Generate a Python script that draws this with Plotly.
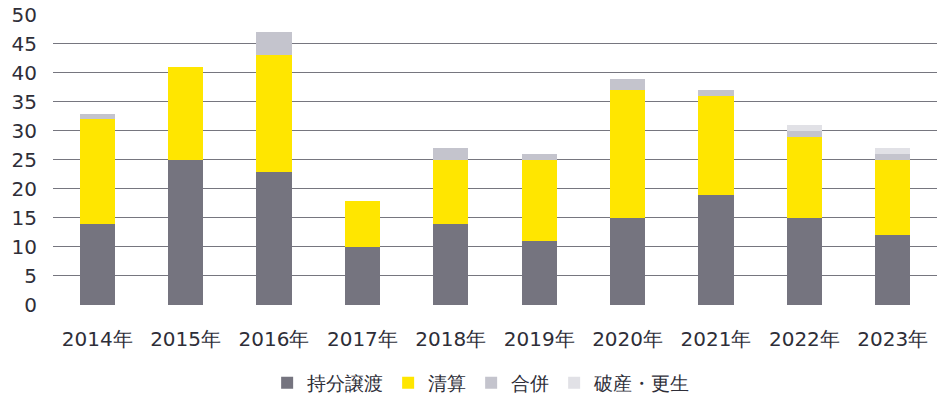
import plotly.graph_objects as go

years = ["2014年", "2015年", "2016年", "2017年", "2018年", "2019年", "2020年", "2021年", "2022年", "2023年"]
transfer = [14, 25, 23, 10, 14, 11, 15, 19, 15, 12]
liquidation = [18, 16, 20, 8, 11, 14, 22, 17, 14, 13]
merger = [1, 0, 4, 0, 2, 1, 2, 1, 1, 1]
bankruptcy = [0, 0, 0, 0, 0, 0, 0, 0, 1, 1]

series = [
    ("持分譲渡", transfer, "#75747F"),
    ("清算", liquidation, "#FFE600"),
    ("合併", merger, "#C4C4CD"),
    ("破産・更生", bankruptcy, "#E1E1E6"),
]

font_family = "DejaVu Sans"
text_color = "#2E2E38"

fig = go.Figure()
for name, vals, color in series:
    fig.add_trace(go.Bar(x=years, y=vals, name=name, marker=dict(color=color, line=dict(width=0)), width=0.4))

fig.update_layout(
    barmode="stack",
    width=949, height=401,
    margin=dict(l=53, r=12, t=14, b=96, autoexpand=False),
    paper_bgcolor="white", plot_bgcolor="white",
    font=dict(family=font_family, size=20, color=text_color),
    showlegend=True,
    legend=dict(orientation="h", xref="container", x=0.507, xanchor="center",
                yref="container", y=0.045, yanchor="middle",
                font=dict(size=19, color=text_color), traceorder="normal", itemwidth=30),
)
fig.update_yaxes(range=[0, 50.15], tickvals=[0, 5, 10, 15, 20, 25, 30, 35, 40, 45, 50],
                 showgrid=True, gridcolor="#76767F", gridwidth=1.2,
                 zeroline=False, showline=False, ticks="", tickfont=dict(size=20, color=text_color),
                 ticklabelstandoff=15)
fig.update_xaxes(showgrid=False, showline=False, ticks="", tickfont=dict(size=20, color=text_color),
                 ticklabelstandoff=20)

fig.write_html("out.html",
               config={"displayModeBar": False},
               post_script="document.body.style.margin='0';document.body.style.overflow='hidden';")
